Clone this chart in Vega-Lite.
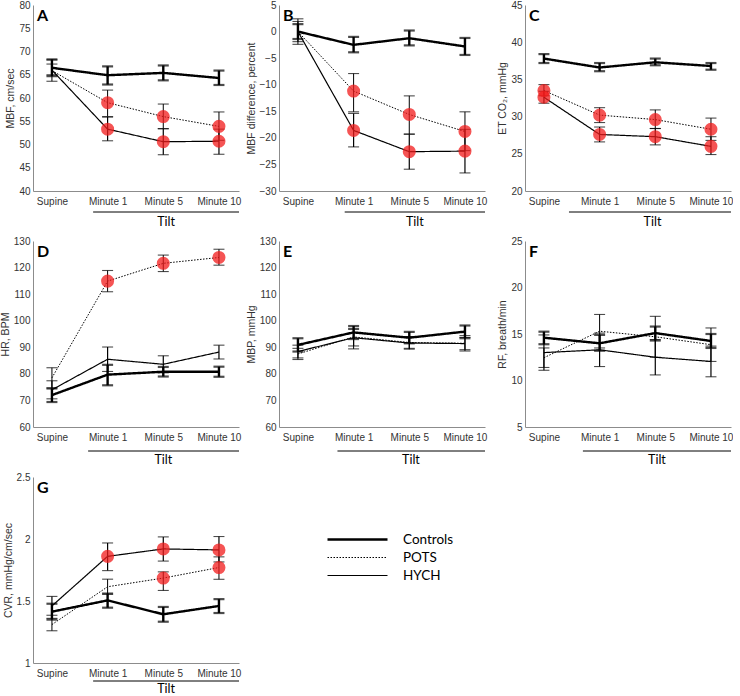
{
"$schema": "https://vega.github.io/schema/vega-lite/v6.json",
"background": "white",
"padding": {"left": 0, "top": 0, "right": 0, "bottom": 0},
"columns": 3,
"bounds": "flush",
"spacing": {"row": 50, "column": 40},
"config": {
  "view": {"stroke": null},
  "font": "Liberation Sans",
  "axis": {"grid": false, "ticks": false, "tickCount": 20, "domainColor": "#8c8c8c", "domainWidth": 1, "labelFont": "Liberation Sans", "labelFontSize": 10, "labelColor": "#333333", "labelPadding": 3, "titleFont": "Liberation Sans", "titleFontSize": 10.5, "titleFontWeight": "normal", "titleColor": "#333333", "titlePadding": 3, "labelFlush": false, "labelOverlap": false, "labelBound": false},
  "axisX": {"labelPadding": 5},
  "legend": {"orient": "none", "legendX": 293, "legendY": 527, "symbolType": "stroke", "symbolSize": 3600, "symbolStrokeColor": "black", "clipHeight": 15, "rowPadding": 3, "labelFont": "Lato", "labelFontSize": 13.5, "labelColor": "black", "labelOffset": 14}
},
"datasets": {"d": [
{"panel":"A","group":"Controls","t":0,"mean":66.5,"lo":64.7,"hi":68.3,"sig":false},
{"panel":"A","group":"Controls","t":1,"mean":64.9,"lo":62.9,"hi":66.8,"sig":false},
{"panel":"A","group":"Controls","t":2,"mean":65.4,"lo":63.8,"hi":67.0,"sig":false},
{"panel":"A","group":"Controls","t":3,"mean":64.3,"lo":62.8,"hi":65.9,"sig":false},
{"panel":"A","group":"POTS","t":0,"mean":65.9,"lo":63.6,"hi":68.2,"sig":false},
{"panel":"A","group":"POTS","t":1,"mean":59.0,"lo":56.0,"hi":61.7,"sig":true},
{"panel":"A","group":"POTS","t":2,"mean":56.0,"lo":53.4,"hi":58.7,"sig":true},
{"panel":"A","group":"POTS","t":3,"mean":53.9,"lo":50.9,"hi":57.0,"sig":true},
{"panel":"A","group":"HYCH","t":0,"mean":66.0,"lo":65.0,"hi":67.3,"sig":false},
{"panel":"A","group":"HYCH","t":1,"mean":53.3,"lo":50.8,"hi":55.9,"sig":true},
{"panel":"A","group":"HYCH","t":2,"mean":50.6,"lo":47.8,"hi":53.4,"sig":true},
{"panel":"A","group":"HYCH","t":3,"mean":50.7,"lo":47.9,"hi":53.3,"sig":true},
{"panel":"B","group":"Controls","t":0,"mean":0,"lo":-1.4,"hi":1.4,"sig":false},
{"panel":"B","group":"Controls","t":1,"mean":-2.5,"lo":-3.9,"hi":-1.0,"sig":false},
{"panel":"B","group":"Controls","t":2,"mean":-1.25,"lo":-2.6,"hi":0.2,"sig":false},
{"panel":"B","group":"Controls","t":3,"mean":-2.8,"lo":-4.4,"hi":-1.2,"sig":false},
{"panel":"B","group":"POTS","t":0,"mean":0,"lo":-2.4,"hi":2.4,"sig":false},
{"panel":"B","group":"POTS","t":1,"mean":-11.2,"lo":-15.1,"hi":-7.9,"sig":true},
{"panel":"B","group":"POTS","t":2,"mean":-15.6,"lo":-19.3,"hi":-12.1,"sig":true},
{"panel":"B","group":"POTS","t":3,"mean":-18.8,"lo":-22.4,"hi":-15.1,"sig":true},
{"panel":"B","group":"HYCH","t":0,"mean":0,"lo":-1.9,"hi":1.9,"sig":false},
{"panel":"B","group":"HYCH","t":1,"mean":-18.6,"lo":-21.7,"hi":-15.4,"sig":true},
{"panel":"B","group":"HYCH","t":2,"mean":-22.6,"lo":-25.9,"hi":-19.3,"sig":true},
{"panel":"B","group":"HYCH","t":3,"mean":-22.5,"lo":-26.6,"hi":-18.4,"sig":true},
{"panel":"C","group":"Controls","t":0,"mean":37.8,"lo":37.2,"hi":38.4,"sig":false},
{"panel":"C","group":"Controls","t":1,"mean":36.6,"lo":36.1,"hi":37.2,"sig":false},
{"panel":"C","group":"Controls","t":2,"mean":37.3,"lo":36.9,"hi":37.8,"sig":false},
{"panel":"C","group":"Controls","t":3,"mean":36.8,"lo":36.3,"hi":37.2,"sig":false},
{"panel":"C","group":"POTS","t":0,"mean":33.5,"lo":32.8,"hi":34.3,"sig":true},
{"panel":"C","group":"POTS","t":1,"mean":30.2,"lo":29.2,"hi":31.2,"sig":true},
{"panel":"C","group":"POTS","t":2,"mean":29.6,"lo":28.4,"hi":30.9,"sig":true},
{"panel":"C","group":"POTS","t":3,"mean":28.3,"lo":26.8,"hi":29.8,"sig":true},
{"panel":"C","group":"HYCH","t":0,"mean":32.6,"lo":31.8,"hi":33.4,"sig":true},
{"panel":"C","group":"HYCH","t":1,"mean":27.6,"lo":26.6,"hi":28.6,"sig":true},
{"panel":"C","group":"HYCH","t":2,"mean":27.3,"lo":26.2,"hi":28.4,"sig":true},
{"panel":"C","group":"HYCH","t":3,"mean":26.0,"lo":24.9,"hi":27.3,"sig":true},
{"panel":"D","group":"Controls","t":0,"mean":72.0,"lo":69.4,"hi":74.5,"sig":false},
{"panel":"D","group":"Controls","t":1,"mean":79.7,"lo":75.7,"hi":83.4,"sig":false},
{"panel":"D","group":"Controls","t":2,"mean":80.8,"lo":79.0,"hi":82.6,"sig":false},
{"panel":"D","group":"Controls","t":3,"mean":80.8,"lo":78.9,"hi":82.7,"sig":false},
{"panel":"D","group":"POTS","t":0,"mean":78.5,"lo":74.7,"hi":82.3,"sig":false},
{"panel":"D","group":"POTS","t":1,"mean":114.9,"lo":110.9,"hi":118.9,"sig":true},
{"panel":"D","group":"POTS","t":2,"mean":121.6,"lo":118.5,"hi":124.7,"sig":true},
{"panel":"D","group":"POTS","t":3,"mean":123.8,"lo":120.9,"hi":126.9,"sig":true},
{"panel":"D","group":"HYCH","t":0,"mean":74.0,"lo":70.6,"hi":77.4,"sig":false},
{"panel":"D","group":"HYCH","t":1,"mean":85.5,"lo":80.9,"hi":90.1,"sig":false},
{"panel":"D","group":"HYCH","t":2,"mean":83.6,"lo":80.4,"hi":86.8,"sig":false},
{"panel":"D","group":"HYCH","t":3,"mean":88.2,"lo":85.6,"hi":90.8,"sig":false},
{"panel":"E","group":"Controls","t":0,"mean":90.9,"lo":88.4,"hi":93.4,"sig":false},
{"panel":"E","group":"Controls","t":1,"mean":95.6,"lo":93.1,"hi":98.0,"sig":false},
{"panel":"E","group":"Controls","t":2,"mean":93.6,"lo":91.5,"hi":95.8,"sig":false},
{"panel":"E","group":"Controls","t":3,"mean":95.9,"lo":93.4,"hi":98.2,"sig":false},
{"panel":"E","group":"POTS","t":0,"mean":87.5,"lo":85.4,"hi":89.6,"sig":false},
{"panel":"E","group":"POTS","t":1,"mean":93.9,"lo":89.4,"hi":97.1,"sig":false},
{"panel":"E","group":"POTS","t":2,"mean":91.8,"lo":89.6,"hi":94.0,"sig":false},
{"panel":"E","group":"POTS","t":3,"mean":91.5,"lo":88.6,"hi":94.4,"sig":false},
{"panel":"E","group":"HYCH","t":0,"mean":88.4,"lo":86.0,"hi":90.8,"sig":false},
{"panel":"E","group":"HYCH","t":1,"mean":93.6,"lo":90.5,"hi":96.7,"sig":false},
{"panel":"E","group":"HYCH","t":2,"mean":91.6,"lo":89.3,"hi":93.9,"sig":false},
{"panel":"E","group":"HYCH","t":3,"mean":91.4,"lo":89.1,"hi":93.7,"sig":false},
{"panel":"F","group":"Controls","t":0,"mean":14.6,"lo":13.9,"hi":15.25,"sig":false},
{"panel":"F","group":"Controls","t":1,"mean":14.0,"lo":13.2,"hi":14.9,"sig":false},
{"panel":"F","group":"Controls","t":2,"mean":15.1,"lo":14.3,"hi":15.8,"sig":false},
{"panel":"F","group":"Controls","t":3,"mean":14.25,"lo":13.5,"hi":15.0,"sig":false},
{"panel":"F","group":"POTS","t":0,"mean":12.45,"lo":11.4,"hi":13.5,"sig":false},
{"panel":"F","group":"POTS","t":1,"mean":15.3,"lo":13.5,"hi":17.1,"sig":false},
{"panel":"F","group":"POTS","t":2,"mean":14.7,"lo":12.5,"hi":16.9,"sig":false},
{"panel":"F","group":"POTS","t":3,"mean":13.85,"lo":12.05,"hi":15.65,"sig":false},
{"panel":"F","group":"HYCH","t":0,"mean":13.0,"lo":11.1,"hi":14.9,"sig":false},
{"panel":"F","group":"HYCH","t":1,"mean":13.3,"lo":11.5,"hi":15.1,"sig":false},
{"panel":"F","group":"HYCH","t":2,"mean":12.5,"lo":10.6,"hi":14.4,"sig":false},
{"panel":"F","group":"HYCH","t":3,"mean":12.05,"lo":10.4,"hi":13.7,"sig":false},
{"panel":"G","group":"Controls","t":0,"mean":1.414,"lo":1.35,"hi":1.478,"sig":false},
{"panel":"G","group":"Controls","t":1,"mean":1.505,"lo":1.446,"hi":1.56,"sig":false},
{"panel":"G","group":"Controls","t":2,"mean":1.393,"lo":1.333,"hi":1.452,"sig":false},
{"panel":"G","group":"Controls","t":3,"mean":1.46,"lo":1.403,"hi":1.515,"sig":false},
{"panel":"G","group":"POTS","t":0,"mean":1.31,"lo":1.26,"hi":1.36,"sig":false},
{"panel":"G","group":"POTS","t":1,"mean":1.615,"lo":1.555,"hi":1.676,"sig":false},
{"panel":"G","group":"POTS","t":2,"mean":1.685,"lo":1.585,"hi":1.735,"sig":true},
{"panel":"G","group":"POTS","t":3,"mean":1.77,"lo":1.675,"hi":1.856,"sig":true},
{"panel":"G","group":"HYCH","t":0,"mean":1.46,"lo":1.385,"hi":1.537,"sig":false},
{"panel":"G","group":"HYCH","t":1,"mean":1.86,"lo":1.745,"hi":1.968,"sig":true},
{"panel":"G","group":"HYCH","t":2,"mean":1.92,"lo":1.822,"hi":2.017,"sig":true},
{"panel":"G","group":"HYCH","t":3,"mean":1.912,"lo":1.815,"hi":2.02,"sig":true}
]},
"concat": [
{"width": 206, "height": 186, "data": {"name": "d"}, "layer": [
 {"transform": [{"filter": "datum.panel==='A'"}], "mark": {"type": "rule", "color": "black"}, "encoding": {"x": {"field": "t", "type": "quantitative", "scale": {"domain": [-0.34, 3.36], "nice": false, "zero": false}, "axis": {"title": null, "values": [0, 1, 2, 3], "labelExpr": "['Supine','Minute 1','Minute 5','Minute 10'][datum.value]"}}, "y": {"field": "lo", "type": "quantitative", "scale": {"domain": [40, 80], "nice": false, "zero": false}, "axis": {"title": "MBF, cm/sec", "values": [40, 45, 50, 55, 60, 65, 70, 75, 80], "labelOverlap": false}}, "y2": {"field": "hi"}, "strokeWidth": {"field": "group", "type": "nominal", "title": null, "scale": {"type": "ordinal", "domain": ["Controls", "POTS", "HYCH"], "range": [2.4, 1, 1.2]}}}},
 {"transform": [{"filter": "datum.panel==='A' && datum.group==='Controls'"}, {"fold": ["lo", "hi"], "as": ["k", "v"]}], "mark": {"type": "tick", "orient": "horizontal", "size": 11, "thickness": 2.2, "color": "black"}, "encoding": {"x": {"field": "t", "type": "quantitative", "axis": {"title": null, "values": [0, 1, 2, 3], "labelExpr": "['Supine','Minute 1','Minute 5','Minute 10'][datum.value]"}}, "y": {"field": "v", "type": "quantitative", "axis": {"title": "MBF, cm/sec", "values": [40, 45, 50, 55, 60, 65, 70, 75, 80], "labelOverlap": false}}}},
 {"transform": [{"filter": "datum.panel==='A' && datum.group!=='Controls'"}, {"fold": ["lo", "hi"], "as": ["k", "v"]}], "mark": {"type": "tick", "orient": "horizontal", "size": 11, "thickness": 1.1, "color": "black"}, "encoding": {"x": {"field": "t", "type": "quantitative", "axis": {"title": null, "values": [0, 1, 2, 3], "labelExpr": "['Supine','Minute 1','Minute 5','Minute 10'][datum.value]"}}, "y": {"field": "v", "type": "quantitative", "axis": {"title": "MBF, cm/sec", "values": [40, 45, 50, 55, 60, 65, 70, 75, 80], "labelOverlap": false}}}},
 {"transform": [{"filter": "datum.panel==='A'"}], "mark": {"type": "line", "color": "black"}, "encoding": {"x": {"field": "t", "type": "quantitative", "axis": {"title": null, "values": [0, 1, 2, 3], "labelExpr": "['Supine','Minute 1','Minute 5','Minute 10'][datum.value]"}}, "y": {"field": "mean", "type": "quantitative", "axis": {"title": "MBF, cm/sec", "values": [40, 45, 50, 55, 60, 65, 70, 75, 80], "labelOverlap": false}}, "detail": {"field": "group"}, "strokeDash": {"field": "group", "type": "nominal", "title": null, "scale": {"domain": ["Controls", "POTS", "HYCH"], "range": [[1, 0], [1.5, 1.5], [1, 0]]}}, "strokeWidth": {"field": "group", "type": "nominal", "title": null, "scale": {"type": "ordinal", "domain": ["Controls", "POTS", "HYCH"], "range": [2.4, 1, 1.2]}}}},
 {"transform": [{"filter": "datum.panel==='A' && datum.sig"}], "mark": {"type": "point", "filled": true, "size": 170, "color": "#f21b1b", "opacity": 0.75}, "encoding": {"x": {"field": "t", "type": "quantitative", "axis": {"title": null, "values": [0, 1, 2, 3], "labelExpr": "['Supine','Minute 1','Minute 5','Minute 10'][datum.value]"}}, "y": {"field": "mean", "type": "quantitative", "axis": {"title": "MBF, cm/sec", "values": [40, 45, 50, 55, 60, 65, 70, 75, 80], "labelOverlap": false}}}},
 {"data": {"values": [{}]}, "mark": {"type": "rule", "color": "black", "strokeWidth": 1, "yOffset": 21}, "encoding": {"x": {"datum": 0.74, "axis": {"title": null, "values": [0, 1, 2, 3], "labelExpr": "['Supine','Minute 1','Minute 5','Minute 10'][datum.value]"}}, "x2": {"datum": 3.36}, "y": {"datum": 40, "axis": {"title": "MBF, cm/sec", "values": [40, 45, 50, 55, 60, 65, 70, 75, 80], "labelOverlap": false}}}},
 {"data": {"values": [{}]}, "mark": {"type": "text", "text": "Tilt", "font": "Lato", "fontSize": 12.5, "baseline": "middle", "dy": 31}, "encoding": {"x": {"datum": 2.05}, "y": {"datum": 40}}},
 {"data": {"values": [{}]}, "mark": {"type": "text", "text": "A", "font": "Lato", "fontSize": 16, "fontWeight": "bold", "align": "left", "baseline": "top", "dx": 4, "dy": 3}, "encoding": {"x": {"datum": -0.34}, "y": {"datum": 80}}}
]},
{"width": 206, "height": 186, "data": {"name": "d"}, "layer": [
 {"transform": [{"filter": "datum.panel==='B'"}], "mark": {"type": "rule", "color": "black"}, "encoding": {"x": {"field": "t", "type": "quantitative", "scale": {"domain": [-0.34, 3.36], "nice": false, "zero": false}, "axis": {"title": null, "values": [0, 1, 2, 3], "labelExpr": "['Supine','Minute 1','Minute 5','Minute 10'][datum.value]"}}, "y": {"field": "lo", "type": "quantitative", "scale": {"domain": [-30, 5], "nice": false, "zero": false}, "axis": {"title": "MBF difference, percent", "values": [-30, -25, -20, -15, -10, -5, 0, 5], "labelOverlap": false}}, "y2": {"field": "hi"}, "strokeWidth": {"field": "group", "type": "nominal", "title": null, "scale": {"type": "ordinal", "domain": ["Controls", "POTS", "HYCH"], "range": [2.4, 1, 1.2]}}}},
 {"transform": [{"filter": "datum.panel==='B' && datum.group==='Controls'"}, {"fold": ["lo", "hi"], "as": ["k", "v"]}], "mark": {"type": "tick", "orient": "horizontal", "size": 11, "thickness": 2.2, "color": "black"}, "encoding": {"x": {"field": "t", "type": "quantitative", "axis": {"title": null, "values": [0, 1, 2, 3], "labelExpr": "['Supine','Minute 1','Minute 5','Minute 10'][datum.value]"}}, "y": {"field": "v", "type": "quantitative", "axis": {"title": "MBF difference, percent", "values": [-30, -25, -20, -15, -10, -5, 0, 5], "labelOverlap": false}}}},
 {"transform": [{"filter": "datum.panel==='B' && datum.group!=='Controls'"}, {"fold": ["lo", "hi"], "as": ["k", "v"]}], "mark": {"type": "tick", "orient": "horizontal", "size": 11, "thickness": 1.1, "color": "black"}, "encoding": {"x": {"field": "t", "type": "quantitative", "axis": {"title": null, "values": [0, 1, 2, 3], "labelExpr": "['Supine','Minute 1','Minute 5','Minute 10'][datum.value]"}}, "y": {"field": "v", "type": "quantitative", "axis": {"title": "MBF difference, percent", "values": [-30, -25, -20, -15, -10, -5, 0, 5], "labelOverlap": false}}}},
 {"transform": [{"filter": "datum.panel==='B'"}], "mark": {"type": "line", "color": "black"}, "encoding": {"x": {"field": "t", "type": "quantitative", "axis": {"title": null, "values": [0, 1, 2, 3], "labelExpr": "['Supine','Minute 1','Minute 5','Minute 10'][datum.value]"}}, "y": {"field": "mean", "type": "quantitative", "axis": {"title": "MBF difference, percent", "values": [-30, -25, -20, -15, -10, -5, 0, 5], "labelOverlap": false}}, "detail": {"field": "group"}, "strokeDash": {"field": "group", "type": "nominal", "title": null, "scale": {"domain": ["Controls", "POTS", "HYCH"], "range": [[1, 0], [1.5, 1.5], [1, 0]]}}, "strokeWidth": {"field": "group", "type": "nominal", "title": null, "scale": {"type": "ordinal", "domain": ["Controls", "POTS", "HYCH"], "range": [2.4, 1, 1.2]}}}},
 {"transform": [{"filter": "datum.panel==='B' && datum.sig"}], "mark": {"type": "point", "filled": true, "size": 170, "color": "#f21b1b", "opacity": 0.75}, "encoding": {"x": {"field": "t", "type": "quantitative", "axis": {"title": null, "values": [0, 1, 2, 3], "labelExpr": "['Supine','Minute 1','Minute 5','Minute 10'][datum.value]"}}, "y": {"field": "mean", "type": "quantitative", "axis": {"title": "MBF difference, percent", "values": [-30, -25, -20, -15, -10, -5, 0, 5], "labelOverlap": false}}}},
 {"data": {"values": [{}]}, "mark": {"type": "rule", "color": "black", "strokeWidth": 1, "yOffset": 21}, "encoding": {"x": {"datum": 0.84, "axis": {"title": null, "values": [0, 1, 2, 3], "labelExpr": "['Supine','Minute 1','Minute 5','Minute 10'][datum.value]"}}, "x2": {"datum": 3.36}, "y": {"datum": -30, "axis": {"title": "MBF difference, percent", "values": [-30, -25, -20, -15, -10, -5, 0, 5], "labelOverlap": false}}}},
 {"data": {"values": [{}]}, "mark": {"type": "text", "text": "Tilt", "font": "Lato", "fontSize": 12.5, "baseline": "middle", "dy": 31}, "encoding": {"x": {"datum": 2.1}, "y": {"datum": -30}}},
 {"data": {"values": [{}]}, "mark": {"type": "text", "text": "B", "font": "Lato", "fontSize": 16, "fontWeight": "bold", "align": "left", "baseline": "top", "dx": 4, "dy": 3}, "encoding": {"x": {"datum": -0.34}, "y": {"datum": 5}}}
]},
{"width": 206, "height": 186, "data": {"name": "d"}, "layer": [
 {"transform": [{"filter": "datum.panel==='C'"}], "mark": {"type": "rule", "color": "black"}, "encoding": {"x": {"field": "t", "type": "quantitative", "scale": {"domain": [-0.34, 3.36], "nice": false, "zero": false}, "axis": {"title": null, "values": [0, 1, 2, 3], "labelExpr": "['Supine','Minute 1','Minute 5','Minute 10'][datum.value]"}}, "y": {"field": "lo", "type": "quantitative", "scale": {"domain": [20, 45], "nice": false, "zero": false}, "axis": {"title": "ET CO₂, mmHg", "values": [20, 25, 30, 35, 40, 45], "labelOverlap": false}}, "y2": {"field": "hi"}, "strokeWidth": {"field": "group", "type": "nominal", "title": null, "scale": {"type": "ordinal", "domain": ["Controls", "POTS", "HYCH"], "range": [2.4, 1, 1.2]}}}},
 {"transform": [{"filter": "datum.panel==='C' && datum.group==='Controls'"}, {"fold": ["lo", "hi"], "as": ["k", "v"]}], "mark": {"type": "tick", "orient": "horizontal", "size": 11, "thickness": 2.2, "color": "black"}, "encoding": {"x": {"field": "t", "type": "quantitative", "axis": {"title": null, "values": [0, 1, 2, 3], "labelExpr": "['Supine','Minute 1','Minute 5','Minute 10'][datum.value]"}}, "y": {"field": "v", "type": "quantitative", "axis": {"title": "ET CO₂, mmHg", "values": [20, 25, 30, 35, 40, 45], "labelOverlap": false}}}},
 {"transform": [{"filter": "datum.panel==='C' && datum.group!=='Controls'"}, {"fold": ["lo", "hi"], "as": ["k", "v"]}], "mark": {"type": "tick", "orient": "horizontal", "size": 11, "thickness": 1.1, "color": "black"}, "encoding": {"x": {"field": "t", "type": "quantitative", "axis": {"title": null, "values": [0, 1, 2, 3], "labelExpr": "['Supine','Minute 1','Minute 5','Minute 10'][datum.value]"}}, "y": {"field": "v", "type": "quantitative", "axis": {"title": "ET CO₂, mmHg", "values": [20, 25, 30, 35, 40, 45], "labelOverlap": false}}}},
 {"transform": [{"filter": "datum.panel==='C'"}], "mark": {"type": "line", "color": "black"}, "encoding": {"x": {"field": "t", "type": "quantitative", "axis": {"title": null, "values": [0, 1, 2, 3], "labelExpr": "['Supine','Minute 1','Minute 5','Minute 10'][datum.value]"}}, "y": {"field": "mean", "type": "quantitative", "axis": {"title": "ET CO₂, mmHg", "values": [20, 25, 30, 35, 40, 45], "labelOverlap": false}}, "detail": {"field": "group"}, "strokeDash": {"field": "group", "type": "nominal", "title": null, "scale": {"domain": ["Controls", "POTS", "HYCH"], "range": [[1, 0], [1.5, 1.5], [1, 0]]}}, "strokeWidth": {"field": "group", "type": "nominal", "title": null, "scale": {"type": "ordinal", "domain": ["Controls", "POTS", "HYCH"], "range": [2.4, 1, 1.2]}}}},
 {"transform": [{"filter": "datum.panel==='C' && datum.sig"}], "mark": {"type": "point", "filled": true, "size": 170, "color": "#f21b1b", "opacity": 0.75}, "encoding": {"x": {"field": "t", "type": "quantitative", "axis": {"title": null, "values": [0, 1, 2, 3], "labelExpr": "['Supine','Minute 1','Minute 5','Minute 10'][datum.value]"}}, "y": {"field": "mean", "type": "quantitative", "axis": {"title": "ET CO₂, mmHg", "values": [20, 25, 30, 35, 40, 45], "labelOverlap": false}}}},
 {"data": {"values": [{}]}, "mark": {"type": "rule", "color": "black", "strokeWidth": 1, "yOffset": 21}, "encoding": {"x": {"datum": 0.45, "axis": {"title": null, "values": [0, 1, 2, 3], "labelExpr": "['Supine','Minute 1','Minute 5','Minute 10'][datum.value]"}}, "x2": {"datum": 3.36}, "y": {"datum": 20, "axis": {"title": "ET CO₂, mmHg", "values": [20, 25, 30, 35, 40, 45], "labelOverlap": false}}}},
 {"data": {"values": [{}]}, "mark": {"type": "text", "text": "Tilt", "font": "Lato", "fontSize": 12.5, "baseline": "middle", "dy": 31}, "encoding": {"x": {"datum": 1.95}, "y": {"datum": 20}}},
 {"data": {"values": [{}]}, "mark": {"type": "text", "text": "C", "font": "Lato", "fontSize": 16, "fontWeight": "bold", "align": "left", "baseline": "top", "dx": 4, "dy": 3}, "encoding": {"x": {"datum": -0.34}, "y": {"datum": 45}}}
]},
{"width": 206, "height": 186, "data": {"name": "d"}, "layer": [
 {"transform": [{"filter": "datum.panel==='D'"}], "mark": {"type": "rule", "color": "black"}, "encoding": {"x": {"field": "t", "type": "quantitative", "scale": {"domain": [-0.34, 3.36], "nice": false, "zero": false}, "axis": {"title": null, "values": [0, 1, 2, 3], "labelExpr": "['Supine','Minute 1','Minute 5','Minute 10'][datum.value]"}}, "y": {"field": "lo", "type": "quantitative", "scale": {"domain": [60, 130], "nice": false, "zero": false}, "axis": {"title": "HR, BPM", "values": [60, 70, 80, 90, 100, 110, 120, 130], "labelOverlap": false}}, "y2": {"field": "hi"}, "strokeWidth": {"field": "group", "type": "nominal", "title": null, "scale": {"type": "ordinal", "domain": ["Controls", "POTS", "HYCH"], "range": [2.4, 1, 1.2]}}}},
 {"transform": [{"filter": "datum.panel==='D' && datum.group==='Controls'"}, {"fold": ["lo", "hi"], "as": ["k", "v"]}], "mark": {"type": "tick", "orient": "horizontal", "size": 11, "thickness": 2.2, "color": "black"}, "encoding": {"x": {"field": "t", "type": "quantitative", "axis": {"title": null, "values": [0, 1, 2, 3], "labelExpr": "['Supine','Minute 1','Minute 5','Minute 10'][datum.value]"}}, "y": {"field": "v", "type": "quantitative", "axis": {"title": "HR, BPM", "values": [60, 70, 80, 90, 100, 110, 120, 130], "labelOverlap": false}}}},
 {"transform": [{"filter": "datum.panel==='D' && datum.group!=='Controls'"}, {"fold": ["lo", "hi"], "as": ["k", "v"]}], "mark": {"type": "tick", "orient": "horizontal", "size": 11, "thickness": 1.1, "color": "black"}, "encoding": {"x": {"field": "t", "type": "quantitative", "axis": {"title": null, "values": [0, 1, 2, 3], "labelExpr": "['Supine','Minute 1','Minute 5','Minute 10'][datum.value]"}}, "y": {"field": "v", "type": "quantitative", "axis": {"title": "HR, BPM", "values": [60, 70, 80, 90, 100, 110, 120, 130], "labelOverlap": false}}}},
 {"transform": [{"filter": "datum.panel==='D'"}], "mark": {"type": "line", "color": "black"}, "encoding": {"x": {"field": "t", "type": "quantitative", "axis": {"title": null, "values": [0, 1, 2, 3], "labelExpr": "['Supine','Minute 1','Minute 5','Minute 10'][datum.value]"}}, "y": {"field": "mean", "type": "quantitative", "axis": {"title": "HR, BPM", "values": [60, 70, 80, 90, 100, 110, 120, 130], "labelOverlap": false}}, "detail": {"field": "group"}, "strokeDash": {"field": "group", "type": "nominal", "title": null, "scale": {"domain": ["Controls", "POTS", "HYCH"], "range": [[1, 0], [1.5, 1.5], [1, 0]]}}, "strokeWidth": {"field": "group", "type": "nominal", "title": null, "scale": {"type": "ordinal", "domain": ["Controls", "POTS", "HYCH"], "range": [2.4, 1, 1.2]}}}},
 {"transform": [{"filter": "datum.panel==='D' && datum.sig"}], "mark": {"type": "point", "filled": true, "size": 170, "color": "#f21b1b", "opacity": 0.75}, "encoding": {"x": {"field": "t", "type": "quantitative", "axis": {"title": null, "values": [0, 1, 2, 3], "labelExpr": "['Supine','Minute 1','Minute 5','Minute 10'][datum.value]"}}, "y": {"field": "mean", "type": "quantitative", "axis": {"title": "HR, BPM", "values": [60, 70, 80, 90, 100, 110, 120, 130], "labelOverlap": false}}}},
 {"data": {"values": [{}]}, "mark": {"type": "rule", "color": "black", "strokeWidth": 1, "yOffset": 24}, "encoding": {"x": {"datum": 0.65, "axis": {"title": null, "values": [0, 1, 2, 3], "labelExpr": "['Supine','Minute 1','Minute 5','Minute 10'][datum.value]"}}, "x2": {"datum": 3.36}, "y": {"datum": 60, "axis": {"title": "HR, BPM", "values": [60, 70, 80, 90, 100, 110, 120, 130], "labelOverlap": false}}}},
 {"data": {"values": [{}]}, "mark": {"type": "text", "text": "Tilt", "font": "Lato", "fontSize": 12.5, "baseline": "middle", "dy": 33}, "encoding": {"x": {"datum": 2.0}, "y": {"datum": 60}}},
 {"data": {"values": [{}]}, "mark": {"type": "text", "text": "D", "font": "Lato", "fontSize": 16, "fontWeight": "bold", "align": "left", "baseline": "top", "dx": 4, "dy": 3}, "encoding": {"x": {"datum": -0.34}, "y": {"datum": 130}}}
]},
{"width": 206, "height": 186, "data": {"name": "d"}, "layer": [
 {"transform": [{"filter": "datum.panel==='E'"}], "mark": {"type": "rule", "color": "black"}, "encoding": {"x": {"field": "t", "type": "quantitative", "scale": {"domain": [-0.34, 3.36], "nice": false, "zero": false}, "axis": {"title": null, "values": [0, 1, 2, 3], "labelExpr": "['Supine','Minute 1','Minute 5','Minute 10'][datum.value]"}}, "y": {"field": "lo", "type": "quantitative", "scale": {"domain": [60, 130], "nice": false, "zero": false}, "axis": {"title": "MBP, mmHg", "values": [60, 70, 80, 90, 100, 110, 120, 130], "labelOverlap": false}}, "y2": {"field": "hi"}, "strokeWidth": {"field": "group", "type": "nominal", "title": null, "scale": {"type": "ordinal", "domain": ["Controls", "POTS", "HYCH"], "range": [2.4, 1, 1.2]}}}},
 {"transform": [{"filter": "datum.panel==='E' && datum.group==='Controls'"}, {"fold": ["lo", "hi"], "as": ["k", "v"]}], "mark": {"type": "tick", "orient": "horizontal", "size": 11, "thickness": 2.2, "color": "black"}, "encoding": {"x": {"field": "t", "type": "quantitative", "axis": {"title": null, "values": [0, 1, 2, 3], "labelExpr": "['Supine','Minute 1','Minute 5','Minute 10'][datum.value]"}}, "y": {"field": "v", "type": "quantitative", "axis": {"title": "MBP, mmHg", "values": [60, 70, 80, 90, 100, 110, 120, 130], "labelOverlap": false}}}},
 {"transform": [{"filter": "datum.panel==='E' && datum.group!=='Controls'"}, {"fold": ["lo", "hi"], "as": ["k", "v"]}], "mark": {"type": "tick", "orient": "horizontal", "size": 11, "thickness": 1.1, "color": "black"}, "encoding": {"x": {"field": "t", "type": "quantitative", "axis": {"title": null, "values": [0, 1, 2, 3], "labelExpr": "['Supine','Minute 1','Minute 5','Minute 10'][datum.value]"}}, "y": {"field": "v", "type": "quantitative", "axis": {"title": "MBP, mmHg", "values": [60, 70, 80, 90, 100, 110, 120, 130], "labelOverlap": false}}}},
 {"transform": [{"filter": "datum.panel==='E'"}], "mark": {"type": "line", "color": "black"}, "encoding": {"x": {"field": "t", "type": "quantitative", "axis": {"title": null, "values": [0, 1, 2, 3], "labelExpr": "['Supine','Minute 1','Minute 5','Minute 10'][datum.value]"}}, "y": {"field": "mean", "type": "quantitative", "axis": {"title": "MBP, mmHg", "values": [60, 70, 80, 90, 100, 110, 120, 130], "labelOverlap": false}}, "detail": {"field": "group"}, "strokeDash": {"field": "group", "type": "nominal", "title": null, "scale": {"domain": ["Controls", "POTS", "HYCH"], "range": [[1, 0], [1.5, 1.5], [1, 0]]}}, "strokeWidth": {"field": "group", "type": "nominal", "title": null, "scale": {"type": "ordinal", "domain": ["Controls", "POTS", "HYCH"], "range": [2.4, 1, 1.2]}}}},
 {"data": {"values": [{}]}, "mark": {"type": "rule", "color": "black", "strokeWidth": 1, "yOffset": 24}, "encoding": {"x": {"datum": 0.71, "axis": {"title": null, "values": [0, 1, 2, 3], "labelExpr": "['Supine','Minute 1','Minute 5','Minute 10'][datum.value]"}}, "x2": {"datum": 3.36}, "y": {"datum": 60, "axis": {"title": "MBP, mmHg", "values": [60, 70, 80, 90, 100, 110, 120, 130], "labelOverlap": false}}}},
 {"data": {"values": [{}]}, "mark": {"type": "text", "text": "Tilt", "font": "Lato", "fontSize": 12.5, "baseline": "middle", "dy": 33}, "encoding": {"x": {"datum": 2.03}, "y": {"datum": 60}}},
 {"data": {"values": [{}]}, "mark": {"type": "text", "text": "E", "font": "Lato", "fontSize": 16, "fontWeight": "bold", "align": "left", "baseline": "top", "dx": 4, "dy": 3}, "encoding": {"x": {"datum": -0.34}, "y": {"datum": 130}}}
]},
{"width": 206, "height": 186, "data": {"name": "d"}, "layer": [
 {"transform": [{"filter": "datum.panel==='F'"}], "mark": {"type": "rule", "color": "black"}, "encoding": {"x": {"field": "t", "type": "quantitative", "scale": {"domain": [-0.34, 3.36], "nice": false, "zero": false}, "axis": {"title": null, "values": [0, 1, 2, 3], "labelExpr": "['Supine','Minute 1','Minute 5','Minute 10'][datum.value]"}}, "y": {"field": "lo", "type": "quantitative", "scale": {"domain": [5, 25], "nice": false, "zero": false}, "axis": {"title": "RF, breath/min", "values": [5, 10, 15, 20, 25], "labelOverlap": false}}, "y2": {"field": "hi"}, "strokeWidth": {"field": "group", "type": "nominal", "title": null, "scale": {"type": "ordinal", "domain": ["Controls", "POTS", "HYCH"], "range": [2.4, 1, 1.2]}}}},
 {"transform": [{"filter": "datum.panel==='F' && datum.group==='Controls'"}, {"fold": ["lo", "hi"], "as": ["k", "v"]}], "mark": {"type": "tick", "orient": "horizontal", "size": 11, "thickness": 2.2, "color": "black"}, "encoding": {"x": {"field": "t", "type": "quantitative", "axis": {"title": null, "values": [0, 1, 2, 3], "labelExpr": "['Supine','Minute 1','Minute 5','Minute 10'][datum.value]"}}, "y": {"field": "v", "type": "quantitative", "axis": {"title": "RF, breath/min", "values": [5, 10, 15, 20, 25], "labelOverlap": false}}}},
 {"transform": [{"filter": "datum.panel==='F' && datum.group!=='Controls'"}, {"fold": ["lo", "hi"], "as": ["k", "v"]}], "mark": {"type": "tick", "orient": "horizontal", "size": 11, "thickness": 1.1, "color": "black"}, "encoding": {"x": {"field": "t", "type": "quantitative", "axis": {"title": null, "values": [0, 1, 2, 3], "labelExpr": "['Supine','Minute 1','Minute 5','Minute 10'][datum.value]"}}, "y": {"field": "v", "type": "quantitative", "axis": {"title": "RF, breath/min", "values": [5, 10, 15, 20, 25], "labelOverlap": false}}}},
 {"transform": [{"filter": "datum.panel==='F'"}], "mark": {"type": "line", "color": "black"}, "encoding": {"x": {"field": "t", "type": "quantitative", "axis": {"title": null, "values": [0, 1, 2, 3], "labelExpr": "['Supine','Minute 1','Minute 5','Minute 10'][datum.value]"}}, "y": {"field": "mean", "type": "quantitative", "axis": {"title": "RF, breath/min", "values": [5, 10, 15, 20, 25], "labelOverlap": false}}, "detail": {"field": "group"}, "strokeDash": {"field": "group", "type": "nominal", "title": null, "scale": {"domain": ["Controls", "POTS", "HYCH"], "range": [[1, 0], [1.5, 1.5], [1, 0]]}}, "strokeWidth": {"field": "group", "type": "nominal", "title": null, "scale": {"type": "ordinal", "domain": ["Controls", "POTS", "HYCH"], "range": [2.4, 1, 1.2]}}}},
 {"data": {"values": [{}]}, "mark": {"type": "rule", "color": "black", "strokeWidth": 1, "yOffset": 24}, "encoding": {"x": {"datum": 0.7, "axis": {"title": null, "values": [0, 1, 2, 3], "labelExpr": "['Supine','Minute 1','Minute 5','Minute 10'][datum.value]"}}, "x2": {"datum": 3.36}, "y": {"datum": 5, "axis": {"title": "RF, breath/min", "values": [5, 10, 15, 20, 25], "labelOverlap": false}}}},
 {"data": {"values": [{}]}, "mark": {"type": "text", "text": "Tilt", "font": "Lato", "fontSize": 12.5, "baseline": "middle", "dy": 33}, "encoding": {"x": {"datum": 2.03}, "y": {"datum": 5}}},
 {"data": {"values": [{}]}, "mark": {"type": "text", "text": "F", "font": "Lato", "fontSize": 16, "fontWeight": "bold", "align": "left", "baseline": "top", "dx": 4, "dy": 3}, "encoding": {"x": {"datum": -0.34}, "y": {"datum": 25}}}
]},
{"width": 206, "height": 186, "data": {"name": "d"}, "layer": [
 {"transform": [{"filter": "datum.panel==='G'"}], "mark": {"type": "rule", "color": "black"}, "encoding": {"x": {"field": "t", "type": "quantitative", "scale": {"domain": [-0.34, 3.36], "nice": false, "zero": false}, "axis": {"title": null, "values": [0, 1, 2, 3], "labelExpr": "['Supine','Minute 1','Minute 5','Minute 10'][datum.value]"}}, "y": {"field": "lo", "type": "quantitative", "scale": {"domain": [1, 2.5], "nice": false, "zero": false}, "axis": {"title": "CVR, mmHg/cm/sec", "values": [1, 1.5, 2, 2.5], "format": "~g", "labelOverlap": false}}, "y2": {"field": "hi"}, "strokeWidth": {"field": "group", "type": "nominal", "title": null, "scale": {"type": "ordinal", "domain": ["Controls", "POTS", "HYCH"], "range": [2.4, 1, 1.2]}}}},
 {"transform": [{"filter": "datum.panel==='G' && datum.group==='Controls'"}, {"fold": ["lo", "hi"], "as": ["k", "v"]}], "mark": {"type": "tick", "orient": "horizontal", "size": 11, "thickness": 2.2, "color": "black"}, "encoding": {"x": {"field": "t", "type": "quantitative", "axis": {"title": null, "values": [0, 1, 2, 3], "labelExpr": "['Supine','Minute 1','Minute 5','Minute 10'][datum.value]"}}, "y": {"field": "v", "type": "quantitative", "axis": {"title": "CVR, mmHg/cm/sec", "values": [1, 1.5, 2, 2.5], "format": "~g", "labelOverlap": false}}}},
 {"transform": [{"filter": "datum.panel==='G' && datum.group!=='Controls'"}, {"fold": ["lo", "hi"], "as": ["k", "v"]}], "mark": {"type": "tick", "orient": "horizontal", "size": 11, "thickness": 1.1, "color": "black"}, "encoding": {"x": {"field": "t", "type": "quantitative", "axis": {"title": null, "values": [0, 1, 2, 3], "labelExpr": "['Supine','Minute 1','Minute 5','Minute 10'][datum.value]"}}, "y": {"field": "v", "type": "quantitative", "axis": {"title": "CVR, mmHg/cm/sec", "values": [1, 1.5, 2, 2.5], "format": "~g", "labelOverlap": false}}}},
 {"transform": [{"filter": "datum.panel==='G'"}], "mark": {"type": "line", "color": "black"}, "encoding": {"x": {"field": "t", "type": "quantitative", "axis": {"title": null, "values": [0, 1, 2, 3], "labelExpr": "['Supine','Minute 1','Minute 5','Minute 10'][datum.value]"}}, "y": {"field": "mean", "type": "quantitative", "axis": {"title": "CVR, mmHg/cm/sec", "values": [1, 1.5, 2, 2.5], "format": "~g", "labelOverlap": false}}, "detail": {"field": "group"}, "strokeDash": {"field": "group", "type": "nominal", "title": null, "scale": {"domain": ["Controls", "POTS", "HYCH"], "range": [[1, 0], [1.5, 1.5], [1, 0]]}}, "strokeWidth": {"field": "group", "type": "nominal", "title": null, "scale": {"type": "ordinal", "domain": ["Controls", "POTS", "HYCH"], "range": [2.4, 1, 1.2]}}}},
 {"transform": [{"filter": "datum.panel==='G' && datum.sig"}], "mark": {"type": "point", "filled": true, "size": 170, "color": "#f21b1b", "opacity": 0.75}, "encoding": {"x": {"field": "t", "type": "quantitative", "axis": {"title": null, "values": [0, 1, 2, 3], "labelExpr": "['Supine','Minute 1','Minute 5','Minute 10'][datum.value]"}}, "y": {"field": "mean", "type": "quantitative", "axis": {"title": "CVR, mmHg/cm/sec", "values": [1, 1.5, 2, 2.5], "format": "~g", "labelOverlap": false}}}},
 {"data": {"values": [{}]}, "mark": {"type": "rule", "color": "black", "strokeWidth": 1, "yOffset": 18}, "encoding": {"x": {"datum": 0.74, "axis": {"title": null, "values": [0, 1, 2, 3], "labelExpr": "['Supine','Minute 1','Minute 5','Minute 10'][datum.value]"}}, "x2": {"datum": 3.36}, "y": {"datum": 1, "axis": {"title": "CVR, mmHg/cm/sec", "values": [1, 1.5, 2, 2.5], "format": "~g", "labelOverlap": false}}}},
 {"data": {"values": [{}]}, "mark": {"type": "text", "text": "Tilt", "font": "Lato", "fontSize": 12.5, "baseline": "middle", "dy": 26}, "encoding": {"x": {"datum": 2.05}, "y": {"datum": 1}}},
 {"data": {"values": [{}]}, "mark": {"type": "text", "text": "G", "font": "Lato", "fontSize": 16, "fontWeight": "bold", "align": "left", "baseline": "top", "dx": 4, "dy": 3}, "encoding": {"x": {"datum": -0.34}, "y": {"datum": 2.5}}}
]}
]
}
